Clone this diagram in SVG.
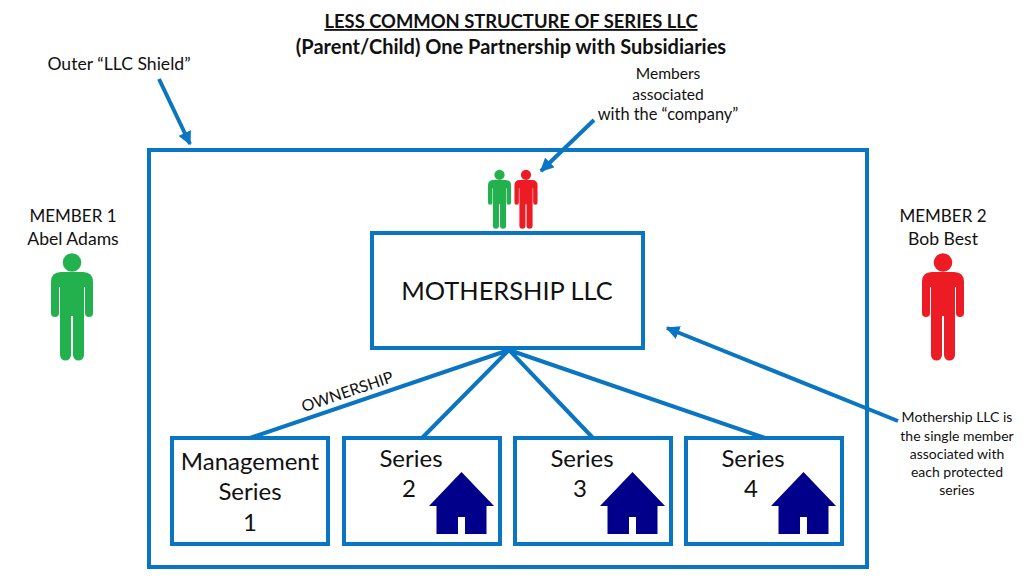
<svg xmlns="http://www.w3.org/2000/svg" xmlns:xlink="http://www.w3.org/1999/xlink" width="1024" height="576" viewBox="0 0 1024 576">
<style>
text{font-family:"Lato","Open Sans",sans-serif;fill:#111;text-anchor:middle}
.t{font-size:18.4px;font-weight:700}
.t2{font-size:20px;font-weight:700}
.m{font-size:17.6px}
.n{font-size:17px}
.a{font-size:15.6px}
.s{font-size:14px}
.o{font-size:16px}
.b{font-size:24px}
.box{fill:#fff;stroke:#0a75c2;stroke-width:4}
.ln{stroke:#0a75c2;stroke-width:4;fill:none}
.h{fill:#00008b}
.g{fill:#22b14c}
.r{fill:#ed1c24}
</style>
<defs>
<symbol id="person" overflow="visible" viewBox="-25 -20 50 110" width="50" height="110">
<circle cx="0" cy="-9.5" r="9.3"/>
<path d="M-11,0H11Q21,0 21,10V41A4,4 0 0 1 13,41V15H12V83A5.5,5.5 0 0 1 1,83V44H-1V83A5.5,5.5 0 0 1 -12,83V15H-13V41A4,4 0 0 1 -21,41V10Q-21,0 -11,0Z"/>
</symbol>
<path id="house" d="M0,0L32.5,34H25V62H3.5V45H-3.5V62H-25V34H-32.5Z"/>
<marker id="a" viewBox="0 0 10 10" refX="9" refY="5" markerWidth="3.4" markerHeight="3.4" orient="auto"><path d="M0,0L10,5L0,10Z" fill="#0a75c2"/></marker>
</defs>
<g id="title">
<text class="t" x="511" y="28" text-decoration="underline">LESS COMMON STRUCTURE OF SERIES LLC</text>
<text class="t2" x="511" y="54">(Parent/Child) One Partnership with Subsidiaries</text>
</g>
<g id="outer"><rect class="box" x="149" y="150" width="718" height="417"/></g>
<g id="connectors">
<path class="ln" d="M509,350L250,438M509,350L422,438M509,350L593,438M509,350L765,438"/>
<path class="ln" marker-end="url(#a)" d="M159,79L190,144"/>
<path class="ln" marker-end="url(#a)" d="M594,120L541,171"/>
<path class="ln" marker-end="url(#a)" d="M898,421L667,328"/>
</g>
<g id="label-shield"><text class="m" x="119" y="70">Outer “LLC Shield”</text></g>
<g id="label-members"><text class="a" x="668" y="79">Members</text><text class="a" x="668" y="100">associated</text><text class="a" x="668" y="120" style="font-size:16.4px">with the “company”</text></g>
<g id="member1"><text class="n" x="73" y="222">MEMBER 1</text><text class="m" x="73" y="245">Abel Adams</text>
<use xlink:href="#person" href="#person" class="g" transform="translate(72,272)" x="-25" y="-20"/></g>
<g id="member2"><text class="n" x="943" y="222">MEMBER 2</text><text class="m" x="943" y="245">Bob Best</text>
<use xlink:href="#person" href="#person" class="r" transform="translate(943,272)" x="-25" y="-20"/></g>
<g id="small-green"><use xlink:href="#person" href="#person" class="g" transform="translate(499.5,180) scale(.55)" x="-25" y="-20"/></g>
<g id="small-red"><use xlink:href="#person" href="#person" class="r" transform="translate(526,180) scale(.55)" x="-25" y="-20"/></g>
<g id="mothership"><rect class="box" x="372" y="233" width="271" height="115"/><text x="507" y="300" font-size="25.4">MOTHERSHIP LLC</text></g>
<g id="ownership"><text class="o" transform="translate(349,397) rotate(-18.5)">OWNERSHIP</text></g>
<g id="series1"><rect class="box" x="172" y="438" width="156" height="106"/><text class="b" x="250" y="470">Management</text><text class="b" x="250" y="500">Series</text><text class="b" x="250" y="531">1</text></g>
<g id="series2"><rect class="box" x="344" y="438" width="156" height="106"/><text class="b" x="411" y="467">Series</text><text class="b" x="409" y="497">2</text><use xlink:href="#house" href="#house" class="h" transform="translate(461.5,472)"/></g>
<g id="series3"><rect class="box" x="515" y="438" width="156" height="106"/><text class="b" x="582" y="467">Series</text><text class="b" x="580" y="497">3</text><use xlink:href="#house" href="#house" class="h" transform="translate(632.5,472)"/></g>
<g id="series4"><rect class="box" x="686" y="438" width="156" height="106"/><text class="b" x="753" y="467">Series</text><text class="b" x="751" y="497">4</text><use xlink:href="#house" href="#house" class="h" transform="translate(803.5,472)"/></g>
<g id="label-single"><text class="s" x="957" y="422">Mothership LLC is</text><text class="s" x="957" y="441">the single member</text><text class="s" x="957" y="459">associated with</text><text class="s" x="957" y="477">each protected</text><text class="s" x="957" y="495">series</text></g>
</svg>
